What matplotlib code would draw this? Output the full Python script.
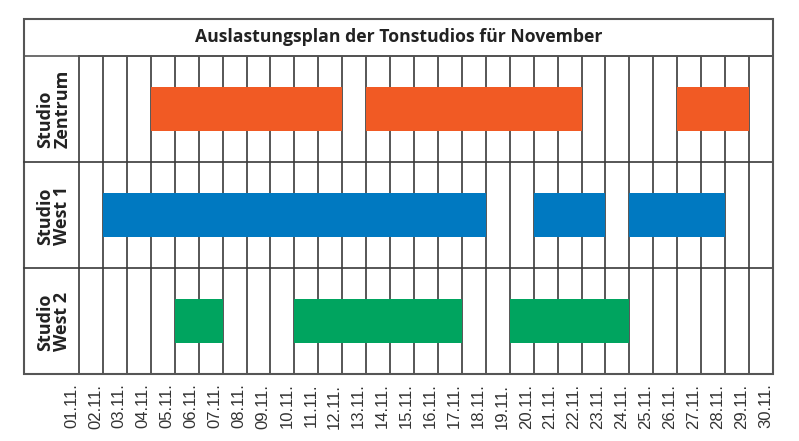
import matplotlib
matplotlib.use("Agg")
import matplotlib.pyplot as plt
from matplotlib.lines import Line2D
from matplotlib.patches import Rectangle

TITLE = "Auslastungsplan der Tonstudios für November"
studios = ["Studio\nZentrum", "Studio\nWest 1", "Studio\nWest 2"]
days = ["%02d.11." % d for d in range(1, 31)]

# belegung: (start-tag, end-tag) pro studio
zentrum = [(4, 12), (13, 22), (26, 29)]
west1 = [(2, 18), (20, 23), (24, 28)]
west2 = [(5, 7), (10, 17), (19, 24)]
bookings = [zentrum, west1, west2]
colors = ["#F15A24", "#0079C1", "#00A45F"]

W, H = 799, 441
L, R, T, B = 24, 773, 19, 374   # outer frame (pixels)
XL, YT = 79, 56                  # label column right edge, title row bottom

def fx(px):
    return px / W

def fy(py):
    return 1 - py / H

def main():
    fig = plt.figure(figsize=(W / 100, H / 100), dpi=100)
    ax = fig.add_axes([fx(XL), fy(B), fx(R) - fx(XL), fy(YT) - fy(B)])

    ax.set_xlim(1, 30)
    ax.set_ylim(len(studios), 0)

    for i, (bk, c) in enumerate(zip(bookings, colors)):
        spans = [(s, e - s) for s, e in bk]
        ax.broken_barh(spans, (i + 0.295, 0.41), facecolors=c, zorder=3)

    for d in range(2, 30):
        ax.axvline(d, color="#3a3a3a", lw=1.2, zorder=1)
    for r in range(1, len(studios)):
        ax.axhline(r, color="#3a3a3a", lw=1.2, zorder=1)

    ax.set_xticks(range(1, 31))
    ax.set_xticklabels(days, rotation=90, fontsize=12, color="#333333",
                       family="Liberation Sans", ha="right")
    ax.tick_params(axis="x", length=0, pad=7)
    ax.set_yticks([])
    for s in ax.spines.values():
        s.set_color("#3a3a3a")
        s.set_linewidth(1.2)

    # frame, title row, label column
    fig.patches.append(Rectangle((fx(L), fy(B)), fx(R) - fx(L), fy(T) - fy(B),
                                 transform=fig.transFigure, fill=False,
                                 ec="#555555", lw=1.5))
    fig.lines.append(Line2D([fx(L), fx(R)], [fy(YT), fy(YT)],
                            transform=fig.transFigure, color="#555555", lw=1.2))
    for r in range(1, len(studios)):
        yy = YT + r * (B - YT) / len(studios)
        fig.lines.append(Line2D([fx(L), fx(XL)], [fy(yy), fy(yy)],
                                transform=fig.transFigure, color="#3a3a3a", lw=1.2))

    fig.text(fx((L + R) / 2), fy((T + YT) / 2), TITLE, ha="center", va="center",
             fontsize=12.7, fontweight="bold", color="#222222", family="Open Sans")

    for i, name in enumerate(studios):
        yy = YT + (i + 0.5) * (B - YT) / len(studios)
        fig.text(fx((L + XL) / 2 + 2), fy(yy), name, rotation=90, ha="center",
                 va="center", fontsize=13, fontweight="bold", color="#222222",
                 family="Open Sans", linespacing=0.95, multialignment="left")

    fig.savefig("out.png", dpi=100)

if __name__ == "__main__":
    main()
